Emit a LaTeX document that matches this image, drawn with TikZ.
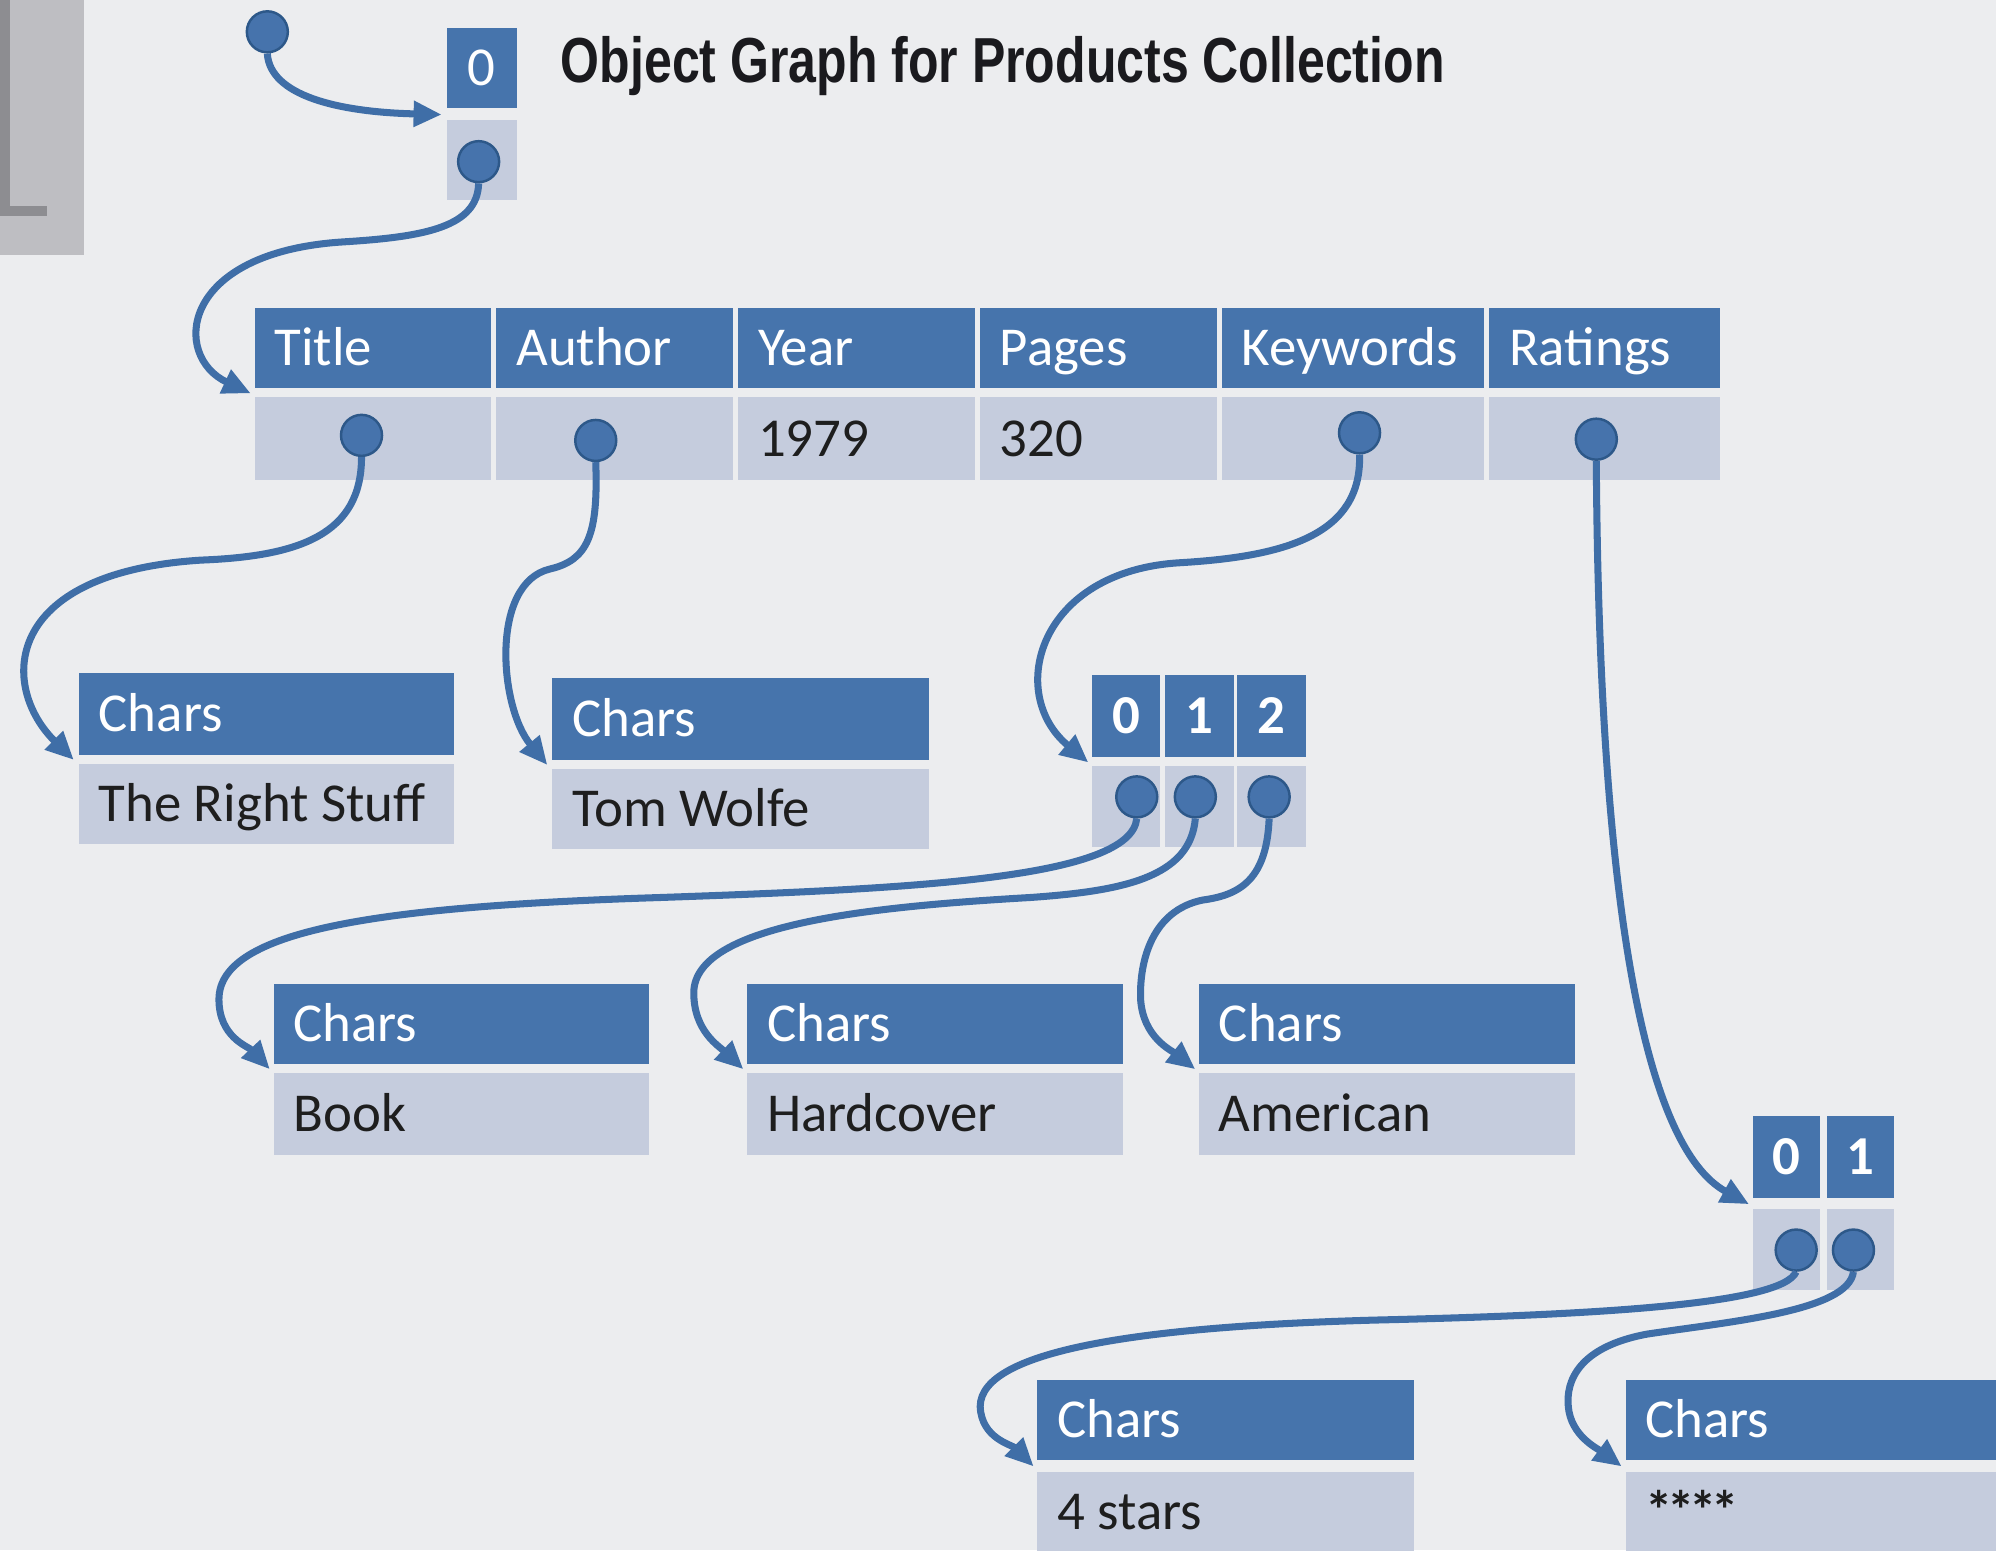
\documentclass[tikz,border=0pt]{standalone}
\usepackage{fontspec}
\usepackage{graphicx}
\usetikzlibrary{arrows.meta}
\newfontfamily\cellfont{Carlito}
\newfontfamily\headfont{Liberation Sans}
\definecolor{bgcol}{HTML}{ECEDEF}
\definecolor{greybox}{HTML}{BEBEC2}
\definecolor{greyline}{HTML}{8D8D91}
\definecolor{hdrblue}{HTML}{4674AC}
\definecolor{cellgrey}{HTML}{C5CCDD}
\definecolor{dotblue}{HTML}{4673AC}
\definecolor{dotedge}{HTML}{2D5889}
\definecolor{linkblue}{HTML}{3F6EA7}
\definecolor{valtext}{HTML}{1E1E1E}
\definecolor{titletext}{HTML}{1A1A1E}

% a rectangular cell given by its corners (x1,y1)-(x2,y2)
\newcommand\cellat[7]{%
  \node[#1, minimum width={(#5-#3)*0.01273cm}, minimum height={(#6-#4)*0.01273cm}] (#2) at (#3,#4) {#7};}
% a cell with a left-aligned label
\newcommand\lcell[8]{%
  \cellat{#1}{#2}{#3}{#4}{#5}{#6}{}%
  \path (#2.west) ++(15,0) node[#7] (#2-t) {#8};}

\tikzset{
  cellbase/.style={draw=none, inner sep=0pt, outer sep=0pt, anchor=north west},
  hdrcell/.style={cellbase, fill=hdrblue},
  valcell/.style={cellbase, fill=cellgrey},
  cellfontstyle/.style={font=\fontsize{15.6}{18}\cellfont, text height=10pt, text depth=0pt},
  idxcell/.style={hdrcell, cellfontstyle, text=white},
  idxbold/.style={hdrcell, cellfontstyle, text=white, font=\fontsize{15.6}{18}\cellfont\bfseries},
  hdrlbl/.style={anchor=west, inner sep=0pt, cellfontstyle, text=white},
  vallbl/.style={anchor=west, inner sep=0pt, cellfontstyle, text=valtext},
  dot/.style={circle, fill=dotblue, draw=dotedge, line width=0.7pt, minimum size=0.41cm, inner sep=0pt},
  link/.style={draw=linkblue, line width=2pt, -{Triangle[length=8pt, width=7pt]}},
}

\begin{document}
\begin{tikzpicture}[x=0.01273cm, y=-0.01273cm]
\useasboundingbox (0,0) rectangle (1568,1218);
\clip (0,0) rectangle (1568,1218);
\fill[bgcol] (0,0) rectangle (1568,1218);

% grey panel at the top left
\fill[greybox] (0,0) rectangle (66,200);
\fill[greyline] (0,0) rectangle (8,170);
\fill[greyline] (0,162) rectangle (37,170);

% title
\node[anchor=base west, inner sep=0pt, text=titletext,
      font=\fontsize{18.1}{20}\headfont\bfseries] (title) at (440,65)
  {\scalebox{0.786}[1]{Object Graph for Products Collection}};

% root collection array
\cellat{idxcell}{top0}{351}{22}{406}{85}{0}
\cellat{valcell}{top0v}{351}{94}{406}{157}{}

% product object
\lcell{hdrcell}{hTitle}{200}{242}{386}{305}{hdrlbl}{Title}
\lcell{hdrcell}{hAuthor}{390}{242}{576}{305}{hdrlbl}{Author}
\lcell{hdrcell}{hYear}{580}{242}{766}{305}{hdrlbl}{Year}
\lcell{hdrcell}{hPages}{770}{242}{956}{305}{hdrlbl}{Pages}
\lcell{hdrcell}{hKeywords}{960}{242}{1166}{305}{hdrlbl}{Keywords}
\lcell{hdrcell}{hRatings}{1170}{242}{1351}{305}{hdrlbl}{Ratings}
\cellat{valcell}{vTitle}{200}{312}{386}{377}{}
\cellat{valcell}{vAuthor}{390}{312}{576}{377}{}
\lcell{valcell}{vYear}{580}{312}{766}{377}{vallbl}{1979}
\lcell{valcell}{vPages}{770}{312}{956}{377}{vallbl}{320}
\cellat{valcell}{vKeywords}{960}{312}{1166}{377}{}
\cellat{valcell}{vRatings}{1170}{312}{1351}{377}{}

% title and author strings
\lcell{hdrcell}{sA}{62}{529}{357}{593}{hdrlbl}{Chars}
\lcell{valcell}{sAv}{62}{600}{357}{663}{vallbl}{The Right Stuff}
\lcell{hdrcell}{sB}{434}{533}{730}{597}{hdrlbl}{Chars}
\lcell{valcell}{sBv}{434}{604}{730}{667}{vallbl}{Tom Wolfe}

% keywords array
\cellat{idxbold}{k0}{858}{530}{911}{595}{0}
\cellat{idxbold}{k1}{915}{530}{969}{595}{1}
\cellat{idxbold}{k2}{972}{530}{1026}{595}{2}
\cellat{valcell}{k0v}{858}{602}{911}{665}{}
\cellat{valcell}{k1v}{915}{602}{969}{665}{}
\cellat{valcell}{k2v}{972}{602}{1026}{665}{}

% keyword strings
\lcell{hdrcell}{sC}{215}{773}{510}{836}{hdrlbl}{Chars}
\lcell{valcell}{sCv}{215}{843}{510}{907}{vallbl}{Book}
\lcell{hdrcell}{sD}{587}{773}{882}{836}{hdrlbl}{Chars}
\lcell{valcell}{sDv}{587}{843}{882}{907}{vallbl}{Hardcover}
\lcell{hdrcell}{sE}{942}{773}{1237}{836}{hdrlbl}{Chars}
\lcell{valcell}{sEv}{942}{843}{1237}{907}{vallbl}{American}

% ratings array
\cellat{idxbold}{r0}{1377}{877}{1430}{941}{0}
\cellat{idxbold}{r1}{1435}{877}{1488}{941}{1}
\cellat{valcell}{r0v}{1377}{950}{1430}{1013}{}
\cellat{valcell}{r1v}{1435}{950}{1488}{1013}{}

% rating strings
\lcell{hdrcell}{sF}{815}{1084}{1111}{1147}{hdrlbl}{Chars}
\lcell{valcell}{sFv}{815}{1156}{1111}{1220}{vallbl}{4 stars}
\lcell{hdrcell}{sG}{1277}{1084}{1573}{1147}{hdrlbl}{Chars}
\lcell{valcell}{sGv}{1277}{1156}{1573}{1220}{vallbl}{\bfseries*\kern-1.5pt*\kern-1.5pt*\kern-1.5pt*}

% reference dots
\node[dot] (dRoot) at (210,25) {};
\node[dot] (dTop) at (376,127) {};
\node[dot] (dTitle) at (284,342) {};
\node[dot] (dAuthor) at (468,346) {};
\node[dot] (dKey) at (1068,340) {};
\node[dot] (dRat) at (1254,345) {};
\node[dot] (dK0) at (893,626) {};
\node[dot] (dK1) at (939,626) {};
\node[dot] (dK2) at (997,626) {};
\node[dot] (dR0) at (1411,982) {};
\node[dot] (dR1) at (1456,982) {};

% arrow targets: left end of the gap under each header
\coordinate (tTop) at (347,90);
\coordinate (tObj) at (197,309);
\coordinate (tA) at (58,597);
\coordinate (tB) at (430,601);
\coordinate (tK) at (855,599);
\coordinate (tR) at (1374,946);
\coordinate (tC) at (212,840);
\coordinate (tD) at (584,840);
\coordinate (tE) at (939,840);
\coordinate (tF) at (812,1152);
\coordinate (tG) at (1274,1152);

% references
\draw[link] (dRoot.south) .. controls (212,75) and (265,88) .. (tTop);
\draw[link] (dTop.south) .. controls (375,178) and (335,186) .. (270,190)
  .. controls (140,198) and (135,280) .. (tObj);
\draw[link] (dTitle.south) .. controls (284,420) and (235,437) .. (158,440)
  .. controls (0,450) and (0,540) .. (tA);
\draw[link] (dAuthor.south) .. controls (470,420) and (462,440) .. (432,447)
  .. controls (385,458) and (392,555) .. (tB);
\draw[link] (dKey.south) .. controls (1070,420) and (1010,437) .. (928,442)
  .. controls (815,448) and (790,545) .. (tK);
\draw[link] (dRat.south) .. controls (1256,700) and (1290,900) .. (tR);
\draw[link] (dK0.south) .. controls (888,690) and (720,698) .. (520,705)
  .. controls (300,712) and (172,730) .. (172,785)
  .. controls (172,815) and (195,822) .. (tC);
\draw[link] (dK1.south) .. controls (935,690) and (880,700) .. (810,705)
  .. controls (690,712) and (545,725) .. (545,780)
  .. controls (545,810) and (565,822) .. (tD);
\draw[link] (dK2.south) .. controls (995,690) and (975,703) .. (945,707)
  .. controls (905,715) and (895,755) .. (896,785)
  .. controls (898,815) and (920,825) .. (tE);
\draw[link] (dR0.south) .. controls (1400,1025) and (1250,1033) .. (1080,1037)
  .. controls (900,1042) and (770,1060) .. (770,1105)
  .. controls (771,1130) and (795,1135) .. (tF);
\draw[link] (dR1.south) .. controls (1452,1030) and (1360,1038) .. (1294,1048)
  .. controls (1240,1058) and (1230,1085) .. (1232,1105)
  .. controls (1234,1128) and (1255,1138) .. (tG);
\end{tikzpicture}
\end{document}
